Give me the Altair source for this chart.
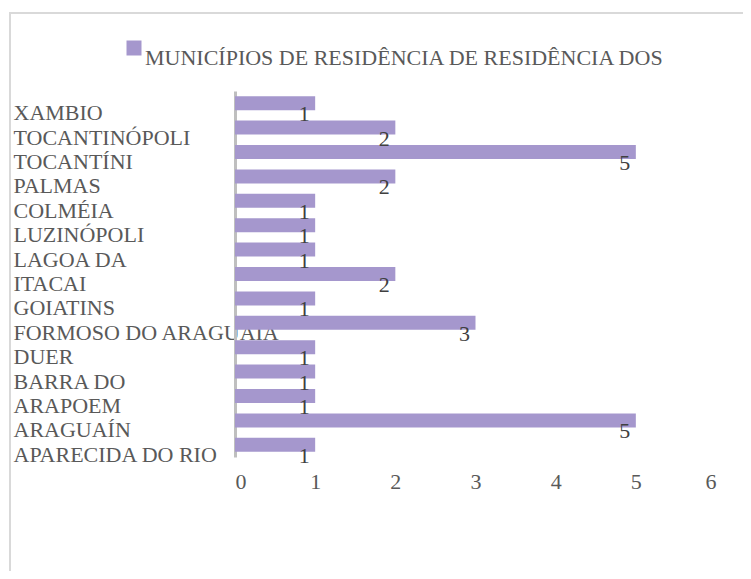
import altair as alt
import pandas as pd

categories = ["XAMBIO", "TOCANTINÓPOLI", "TOCANTÍNI", "PALMAS", "COLMÉIA",
              "LUZINÓPOLI", "LAGOA DA", "ITACAI", "GOIATINS", "FORMOSO DO ARAGUAIA",
              "DUER", "BARRA DO", "ARAPOEM", "ARAGUAÍN", "APARECIDA DO RIO"]
values = [1, 2, 5, 2, 1, 1, 1, 2, 1, 3, 1, 1, 1, 5, 1]
series_name = "MUNICÍPIOS DE RESIDÊNCIA DE RESIDÊNCIA DOS"
x_ticks = [0, 1, 2, 3, 4, 5, 6]

df = pd.DataFrame({"cat": categories, "val": values, "serie": series_name})

FONT = "'Liberation Serif', 'DejaVu Serif', serif"
FS = 22
BAR = "#a597cd"

border = alt.Chart(pd.DataFrame({"a": [0]})).mark_rect(
    fill=None, stroke="#d9d9d9", strokeWidth=2
).encode(
    x=alt.value(-225), x2=alt.value(700), y=alt.value(-78), y2=alt.value(700)
)

base = alt.Chart(df)

bars = base.mark_bar(size=14).encode(
    x=alt.X("val:Q", scale=alt.Scale(domain=[0, 6], nice=False),
            axis=alt.Axis(values=x_ticks, title=None, grid=False, domain=False, ticks=False,
                          labelFont=FONT, labelFontSize=FS, labelColor="#595959",
                          labelPadding=14, format="d")),
    y=alt.Y("cat:N", sort=categories,
            scale=alt.Scale(paddingInner=0.4, paddingOuter=0.2),
            axis=alt.Axis(title=None, ticks=False, domain=True, domainColor="#bfbfbf",
                          domainWidth=3, labelAlign="left", labelPadding=222,
                          labelLimit=0, labelOffset=10, labelFont=FONT,
                          labelFontSize=FS, labelColor="#595959")),
    color=alt.Color("serie:N", scale=alt.Scale(range=[BAR]),
                    legend=alt.Legend(title=None, orient="none", legendX=-112, legendY=-54,
                                      symbolType="square", symbolSize=225,
                                      symbolStrokeWidth=0, symbolOpacity=1,
                                      labelFont=FONT, labelFontSize=FS,
                                      labelColor="#595959", labelOffset=0,
                                      labelBaseline="top", padding=0, labelLimit=0)),
)

labels = base.mark_text(font=FONT, fontSize=FS, color="#404040", dx=-11, dy=11,
                        align="center", baseline="middle").encode(
    x="val:Q", y=alt.Y("cat:N", sort=categories), text="val:Q"
)

chart = alt.layer(border, bars, labels).properties(
    width=481, height=366,
    autosize=alt.AutoSizeParams(type="none"),
    padding={"left": 227, "top": 83, "right": 27, "bottom": 114},
    background="white",
).configure_view(stroke=None)

chart.save("out.html", embed_options={"renderer": "svg", "actions": False})
